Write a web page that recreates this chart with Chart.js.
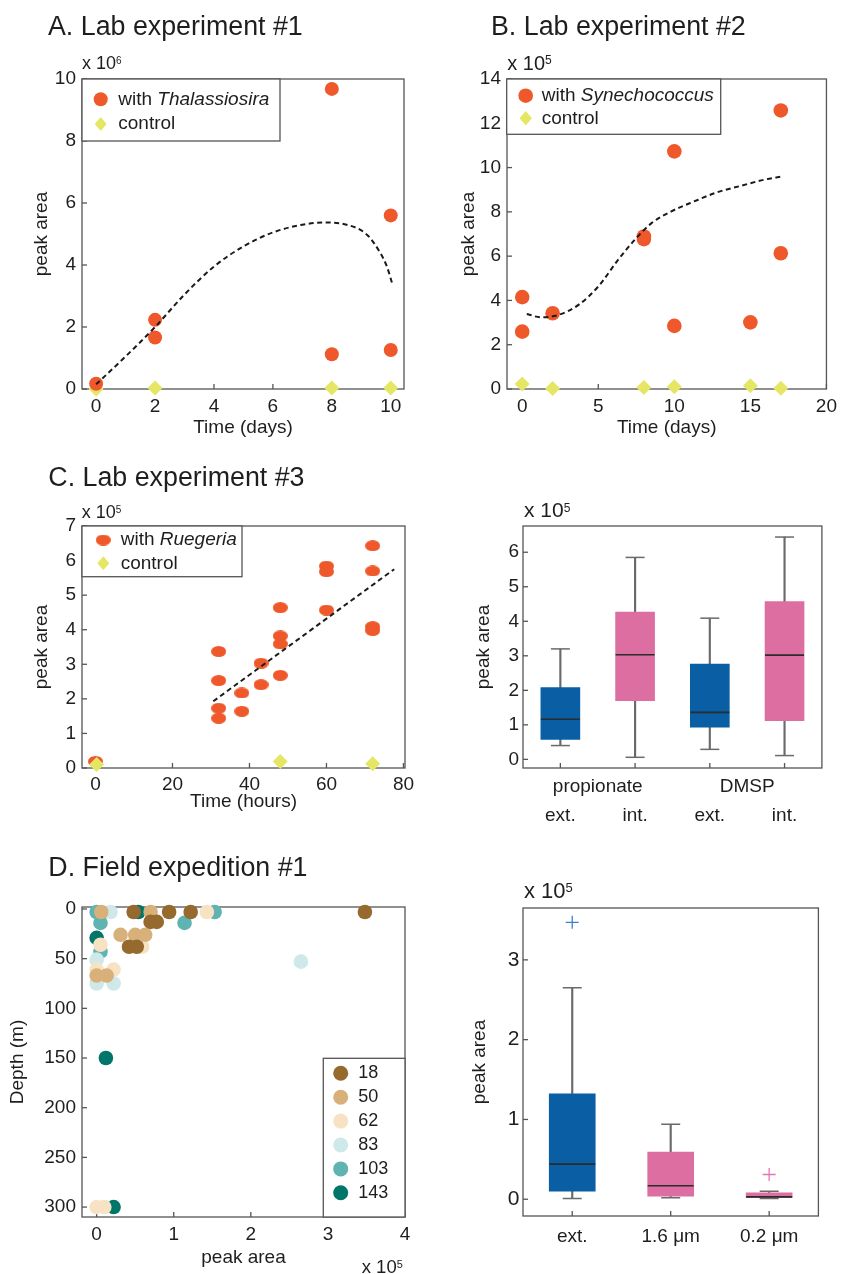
<!DOCTYPE html>
<html lang="en">
<head>
<meta charset="UTF-8">
<title>Peak area: lab experiments and field expedition</title>
<script src="https://cdn.jsdelivr.net/npm/chart.js"></script>
<style>
  body { margin: 0; background: #fff; }
  #fig { position: relative; width: 843px; height: 1274px; background: #fff; }
  #fig canvas { position: absolute; }
</style>
</head>
<body>
<div id="fig">
  <canvas id="panelA" width="421" height="440" style="left:0;top:0"></canvas>
  <canvas id="panelB" width="422" height="440" style="left:421px;top:0"></canvas>
  <canvas id="panelC" width="421" height="390" style="left:0;top:440px"></canvas>
  <canvas id="boxC" width="422" height="390" style="left:421px;top:440px"></canvas>
  <canvas id="panelD" width="421" height="444" style="left:0;top:830px"></canvas>
  <canvas id="boxD" width="422" height="444" style="left:421px;top:830px"></canvas>
</div>
<script>
// ---- data (peak areas in units of the axis multiplier) ----
const daysA = [0, 2, 2, 8, 8, 10, 10];
const areaA = [0.17, 2.23, 1.66, 9.68, 1.12, 5.6, 1.26];
const ctrlDaysA = [0, 2, 8, 10];
const ctrlAreaA = [0.0, 0.03, 0.03, 0.03];
const fitDaysA = [0, 1, 2, 3, 4, 5, 6, 7, 7.7, 8.5, 9.2, 9.65, 9.87, 10.05];
const fitAreaA = [0.15, 1.05, 2.0, 3.05, 3.95, 4.6, 5.05, 5.3, 5.37, 5.3, 4.97, 4.38, 3.95, 3.4];

const daysB = [0, 0, 2, 8, 8, 10, 10, 15, 17, 17];
const areaB = [4.15, 2.59, 3.42, 6.77, 6.89, 10.73, 2.85, 3.01, 12.58, 6.13];
const ctrlDaysB = [0, 2, 8, 10, 15, 17];
const ctrlAreaB = [0.23, 0.02, 0.07, 0.1, 0.15, 0.03];
const fitDaysB = [0.3, 1.2, 2.4, 3.7, 5.0, 6.3, 7.4, 8.5, 9.8, 11.3, 12.8, 14.4, 15.9, 17.1];
const fitAreaB = [3.39, 3.24, 3.35, 3.8, 4.63, 5.83, 6.74, 7.49, 8.02, 8.47, 8.88, 9.18, 9.45, 9.6];

const hoursC = [0, 32, 32, 32, 32, 38, 38, 43, 43, 48, 48, 48, 48, 60, 60, 60, 72, 72, 72, 72];
const areaC = [0.19, 3.37, 2.53, 1.73, 1.44, 2.17, 1.64, 3.03, 2.41, 4.64, 3.82, 3.59, 2.68, 5.84, 5.68, 4.57, 6.43, 5.7, 4.09, 3.98];
const ctrlHoursC = [0.3, 48, 72];
const ctrlAreaC = [0.1, 0.19, 0.12];
const fitHoursC = [30.6, 77.6];
const fitAreaC = [1.93, 5.75];

const boxCats1 = ['ext.', 'int.', 'ext.', 'int.'];
const boxGroups1 = ['propionate', 'DMSP'];
const box1Min = [0.40, 0.06, 0.29, 0.11];
const box1Q1 = [0.58, 1.70, 0.93, 1.12];
const box1Med = [1.16, 3.03, 1.36, 3.02];
const box1Q3 = [2.08, 4.27, 2.76, 4.57];
const box1Max = [3.20, 5.85, 4.09, 6.44];

const stations = ['18', '50', '62', '83', '103', '143'];
const area18 = [0.48, 0.94, 1.22, 3.48, 0.70, 0.78, 0.42, 0.52];
const depth18 = [3, 3, 3, 3, 13, 13, 38, 38];
const area50 = [0.06, 0.70, 0.31, 0.50, 0.63, 0.0, 0.13];
const depth50 = [3, 3, 26, 26, 26, 67, 67];
const area62 = [1.43, 0.05, 0.59, 0.22, 0.0, 0.0, 0.1];
const depth62 = [3, 36, 38, 61, 61, 300, 300];
const area83 = [0.18, 0.0, 2.65, 0.0, 0.22];
const depth83 = [3, 51, 53, 75, 75];
const area103 = [0.0, 1.53, 0.05, 1.14, 0.05];
const depth103 = [3, 3, 14, 14, 43];
const area143 = [0.54, 0.0, 0.12, 0.22];
const depth143 = [3, 29, 150, 300];

const boxCats2 = ['ext.', '1.6 μm', '0.2 μm'];
const box2Min = [0.01, 0.02, 0.01];
const box2Q1 = [0.10, 0.04, 0.02];
const box2Med = [0.44, 0.17, 0.03];
const box2Q3 = [1.32, 0.59, 0.08];
const box2Max = [2.65, 0.94, 0.10];
const box2Out = [3.47, null, 0.31];

const ticksA = { x: [0, 2, 4, 6, 8, 10], y: [0, 2, 4, 6, 8, 10] };
const ticksB = { x: [0, 5, 10, 15, 20], y: [0, 2, 4, 6, 8, 10, 12, 14] };
const ticksC = { x: [0, 20, 40, 60, 80], y: [0, 1, 2, 3, 4, 5, 6, 7] };
const ticksBox1 = [0, 1, 2, 3, 4, 5, 6];
const ticksD = { x: [0, 1, 2, 3, 4], y: [0, 50, 100, 150, 200, 250, 300] };
const ticksBox2 = [0, 1, 2, 3];

// ---- look ----
const ink = '#1e1e1e';
const frameInk = '#555';
const family = '"Liberation Sans", Arial, Helvetica, sans-serif';
const orange = '#EE582A';
const yellow = '#E6E665';
const blue = '#0A5EA4';
const pink = '#DC6EA2';
const stationColors = ['#966A2E', '#D8B07A', '#F7E3C3', '#CFE8EA', '#5FB3B0', '#00766A'];
const titleSize = 26.8;

Chart.defaults.font.family = family;
Chart.defaults.font.size = 19;
Chart.defaults.color = ink;
Chart.defaults.animation = false;
Chart.defaults.plugins.legend.display = false;
Chart.defaults.plugins.tooltip.enabled = false;

const pts = (xs, ys) => xs.map((x, i) => ({ x: x, y: ys[i] }));

function ellipseMark(color, w, h) {
  const c = document.createElement('canvas');
  c.width = w; c.height = h;
  const g = c.getContext('2d');
  g.fillStyle = color;
  g.beginPath();
  g.ellipse(w / 2, h / 2, w / 2, h / 2, 0, 0, Math.PI * 2);
  g.fill();
  return c;
}
const ovalOrange = ellipseMark(orange, 15, 11);

function linAxis(o) {
  const horizontal = o.pos === 'bottom';
  return {
    type: 'linear', position: o.pos, min: o.min, max: o.max, reverse: !!o.reverse,
    grid: { display: false, drawTicks: false },
    border: { display: false },
    ticks: { padding: o.pad, autoSkip: false, maxRotation: 0, font: { size: o.font || 19 } },
    afterBuildTicks: s => { s.ticks = o.ticks.map(v => ({ value: v })); },
    afterFit: s => { if (horizontal) s.height = o.size; else s.width = o.size; },
    title: { display: !!o.title, text: o.title || '', padding: { top: o.tpad || 0, bottom: o.tpad || 0 } }
  };
}

function catAxis(o) {
  return {
    type: 'category', position: 'bottom', offset: true, weight: o.weight || 0,
    labels: o.labels,
    grid: { display: false, drawTicks: false },
    border: { display: false },
    ticks: { padding: o.pad, autoSkip: false, maxRotation: 0 },
    afterFit: s => { s.height = o.size; }
  };
}

function richText(ctx, parts, x, y) {
  ctx.save();
  ctx.fillStyle = ink;
  ctx.textBaseline = 'middle';
  ctx.textAlign = 'left';
  let cx = x;
  parts.forEach(p => {
    ctx.font = (p.italic ? 'italic ' : '') + p.size + 'px ' + family;
    ctx.fillText(p.t, cx, y + (p.dy || 0));
    cx += ctx.measureText(p.t).width;
  });
  ctx.restore();
}

function expNote(x, y, size, power) {
  const sup = Math.round(size * 0.58);
  return { x: x, y: y, parts: [{ t: 'x 10', size: size }, { t: String(power), size: sup, dy: -0.36 * (size - sup) }] };
}

function drawMarker(ctx, kind, color, x, y, r) {
  ctx.save();
  ctx.fillStyle = color;
  ctx.beginPath();
  if (kind === 'circle') {
    ctx.arc(x, y, r, 0, Math.PI * 2);
    ctx.fill();
  } else if (kind === 'diamond') {
    ctx.moveTo(x, y - r); ctx.lineTo(x + r * 0.85, y); ctx.lineTo(x, y + r); ctx.lineTo(x - r * 0.85, y);
    ctx.closePath();
    ctx.fill();
  } else {
    ctx.drawImage(kind, x - kind.width / 2, y - kind.height / 2);
  }
  ctx.restore();
}

function drawLegend(ctx, L) {
  ctx.save();
  ctx.fillStyle = '#fff';
  ctx.fillRect(L.x, L.y, L.w, L.h);
  ctx.strokeStyle = frameInk;
  ctx.lineWidth = 1.3;
  ctx.strokeRect(L.x, L.y, L.w, L.h);
  L.items.forEach((it, i) => {
    const cy = L.y0 + i * L.dy;
    drawMarker(ctx, it.marker, it.color, L.mx, cy, L.r);
    richText(ctx, it.parts, L.tx, cy);
  });
  ctx.restore();
}

// frame, inward ticks, panel titles, multipliers and legends
function decor(spec) {
  return {
    id: 'decor',
    beforeDatasetsDraw(chart) {
      const ctx = chart.ctx, a = chart.chartArea;
      ctx.save();
      ctx.strokeStyle = frameInk;
      ctx.lineWidth = 1.3;
      ctx.strokeRect(a.left, a.top, a.right - a.left, a.bottom - a.top);
      (spec.tickScales || []).forEach(id => {
        const s = chart.scales[id];
        s.ticks.forEach((t, i) => {
          const p = s.getPixelForTick(i);
          ctx.beginPath();
          if (s.isHorizontal()) { ctx.moveTo(p, a.bottom); ctx.lineTo(p, a.bottom - 5); }
          else { ctx.moveTo(a.left, p); ctx.lineTo(a.left + 5, p); }
          ctx.stroke();
        });
      });
      ctx.restore();
    },
    afterDraw(chart) {
      const ctx = chart.ctx;
      (spec.notes || []).forEach(n => richText(ctx, n.parts, n.x, n.y));
      if (spec.legend) drawLegend(ctx, spec.legend);
    }
  };
}

function fitLine(xs, ys) {
  return {
    type: 'line', data: pts(xs, ys), borderColor: '#1a1a1a', borderWidth: 2,
    borderDash: [5, 3.5], pointRadius: 0, cubicInterpolationMode: 'monotone', fill: false, clip: false
  };
}
function dots(xs, ys, color, r) {
  return { type: 'scatter', data: pts(xs, ys), backgroundColor: color, borderWidth: 0, pointRadius: r, clip: false };
}
function diamonds(xs, ys) {
  return { type: 'scatter', data: pts(xs, ys), backgroundColor: yellow, borderWidth: 0, pointStyle: 'rectRot', pointRadius: 7.5, clip: false };
}

function boxSets(mins, q1s, meds, q3s, maxs, colors, boxW) {
  const whisk = '#6a6a6a';
  const cap = { type: 'line', xAxisID: 'x', showLine: false, pointStyle: 'line', pointRadius: 9.5, pointBorderColor: whisk, pointBorderWidth: 1.5, order: 1 };
  return [
    { type: 'line', xAxisID: 'x', data: meds, showLine: false, pointStyle: 'line', pointRadius: boxW / 2, pointBorderColor: '#2b2b2b', pointBorderWidth: 1.6, order: 1 },
    Object.assign({ data: maxs }, cap),
    Object.assign({ data: mins }, cap),
    { type: 'bar', xAxisID: 'x', data: q1s.map((v, i) => [v, q3s[i]]), backgroundColor: colors, barThickness: boxW, grouped: false, order: 2 },
    { type: 'bar', xAxisID: 'x', data: mins.map((v, i) => [v, maxs[i]]), backgroundColor: whisk, barThickness: 1.5, grouped: false, order: 3 }
  ];
}

const base = { responsive: false, devicePixelRatio: 1, animation: false };

// ---- A ----
new Chart(document.getElementById('panelA'), {
  type: 'scatter',
  data: { datasets: [
    fitLine(fitDaysA, fitAreaA),
    dots(daysA, areaA, orange, 7),
    diamonds(ctrlDaysA, ctrlAreaA)
  ] },
  options: Object.assign({}, base, {
    layout: { padding: { left: 0, top: 79, right: 17, bottom: 0 } },
    scales: {
      x: linAxis({ pos: 'bottom', min: -0.48, max: 10.45, ticks: ticksA.x, pad: 6, size: 51, title: 'Time (days)', tpad: 1 }),
      y: linAxis({ pos: 'left', min: 0, max: 10, ticks: ticksA.y, pad: 6, size: 82, title: 'peak area', tpad: 30 })
    }
  }),
  plugins: [decor({
    tickScales: ['x', 'y'],
    notes: [{ x: 48, y: 28, parts: [{ t: 'A. Lab experiment #1', size: titleSize }] }, expNote(82, 64, 18, 6)],
    legend: { x: 82, y: 79, w: 198, h: 62, mx: 100.7, tx: 118.3, y0: 99.3, dy: 24.7, r: 7,
      items: [
        { marker: 'circle', color: orange, parts: [{ t: 'with ', size: 19 }, { t: 'Thalassiosira', size: 19, italic: true }] },
        { marker: 'diamond', color: yellow, parts: [{ t: 'control', size: 19 }] }
      ] }
  })]
});

// ---- B ----
new Chart(document.getElementById('panelB'), {
  type: 'scatter',
  data: { datasets: [
    fitLine(fitDaysB, fitAreaB),
    dots(daysB, areaB, orange, 7.3),
    diamonds(ctrlDaysB, ctrlAreaB)
  ] },
  options: Object.assign({}, base, {
    layout: { padding: { left: 0, top: 79, right: 13, bottom: 0 } },
    scales: {
      x: linAxis({ pos: 'bottom', min: -1, max: 20, ticks: ticksB.x, pad: 6, size: 51, title: 'Time (days)', tpad: 1 }),
      y: linAxis({ pos: 'left', min: 0, max: 14, ticks: ticksB.y, pad: 6, size: 86, title: 'peak area', tpad: 36 })
    }
  }),
  plugins: [decor({
    tickScales: ['x', 'y'],
    notes: [{ x: 70, y: 28, parts: [{ t: 'B. Lab experiment #2', size: titleSize }] }, expNote(86.3, 64, 20, 5)],
    legend: { x: 85.7, y: 79, w: 214, h: 55.3, mx: 104.7, tx: 120.7, y0: 95.7, dy: 22.6, r: 7.3,
      items: [
        { marker: 'circle', color: orange, parts: [{ t: 'with ', size: 19 }, { t: 'Synechococcus', size: 19, italic: true }] },
        { marker: 'diamond', color: yellow, parts: [{ t: 'control', size: 19 }] }
      ] }
  })]
});

// ---- C ----
new Chart(document.getElementById('panelC'), {
  type: 'scatter',
  data: { datasets: [
    fitLine(fitHoursC, fitAreaC),
    diamonds(ctrlHoursC, ctrlAreaC),
    { type: 'scatter', data: pts(hoursC, areaC), pointStyle: ovalOrange, pointRadius: 7, clip: false }
  ] },
  options: Object.assign({}, base, {
    layout: { padding: { left: 0, top: 86, right: 16, bottom: 0 } },
    scales: {
      x: linAxis({ pos: 'bottom', min: -3.5, max: 80.4, ticks: ticksC.x, pad: 5.6, size: 62, title: 'Time (hours)', tpad: 17 }),
      y: linAxis({ pos: 'left', min: 0, max: 7, ticks: ticksC.y, pad: 6, size: 82, title: 'peak area', tpad: 30 })
    }
  }),
  plugins: [decor({
    tickScales: ['x', 'y'],
    notes: [{ x: 48.3, y: 38.3, parts: [{ t: 'C. Lab experiment #3', size: titleSize }] }, expNote(81.7, 73.3, 18, 5)],
    legend: { x: 82, y: 86, w: 160, h: 50.7, mx: 103.3, tx: 120.7, y0: 100, dy: 23.3, r: 7,
      items: [
        { marker: ovalOrange, color: orange, parts: [{ t: 'with ', size: 19 }, { t: 'Ruegeria', size: 19, italic: true }] },
        { marker: 'diamond', color: yellow, parts: [{ t: 'control', size: 19 }] }
      ] }
  })]
});

// ---- C, box plot ----
new Chart(document.getElementById('boxC'), {
  type: 'bar',
  data: { labels: boxCats1, datasets: boxSets(box1Min, box1Q1, box1Med, box1Q3, box1Max, [blue, pink, blue, pink], 39) },
  options: Object.assign({}, base, {
    layout: { padding: { left: 0, top: 86, right: 13, bottom: 0 } },
    scales: {
      x: catAxis({ weight: 1, pad: 5.6, size: 31 }),
      xg: catAxis({ labels: boxGroups1, weight: 0, pad: 7.3, size: 31 }),
      y: linAxis({ pos: 'left', min: -0.25, max: 6.76, ticks: ticksBox1, pad: 4, size: 102, title: 'peak area', tpad: 51 })
    }
  }),
  plugins: [decor({
    tickScales: ['x', 'y'],
    notes: [expNote(103, 71.7, 21, 5)]
  })]
});

// ---- D ----
const fieldAreas = [area18, area50, area62, area83, area103, area143];
const fieldDepths = [depth18, depth50, depth62, depth83, depth103, depth143];
new Chart(document.getElementById('panelD'), {
  type: 'scatter',
  data: { datasets: stations.map((s, i) => Object.assign(dots(fieldAreas[i], fieldDepths[i], stationColors[i], 7.3), { label: s })) },
  options: Object.assign({}, base, {
    layout: { padding: { left: 0, top: 77, right: 16, bottom: 0 } },
    scales: {
      x: linAxis({ pos: 'bottom', min: -0.19, max: 4, ticks: ticksD.x, pad: 6.6, size: 57, title: 'peak area', tpad: 4.6 }),
      y: linAxis({ pos: 'left', min: -2, max: 310, reverse: true, ticks: ticksD.y, pad: 6, size: 82, title: 'Depth (m)', tpad: 6 })
    }
  }),
  plugins: [decor({
    tickScales: ['x', 'y'],
    notes: [{ x: 48.3, y: 38.3, parts: [{ t: 'D. Field expedition #1', size: titleSize }] }, expNote(361.7, 437.7, 18.5, 5)],
    legend: { x: 323.3, y: 228.3, w: 81.7, h: 158.7, mx: 340.7, tx: 358.3, y0: 243.3, dy: 23.9, r: 7.5,
      items: stations.map((s, i) => ({ marker: 'circle', color: stationColors[i], parts: [{ t: s, size: 18 }] })) }
  })]
});

// ---- D, box plot ----
const box2Sets = boxSets(box2Min, box2Q1, box2Med, box2Q3, box2Max, [blue, pink, pink], 46);
box2Sets.unshift({
  type: 'line', xAxisID: 'x', data: box2Out, showLine: false, pointStyle: 'cross', pointRadius: 6.5,
  pointBorderWidth: 1.3, pointBorderColor: ['#3F7FD2', '#3F7FD2', '#E276B4'], order: 0
});
new Chart(document.getElementById('boxD'), {
  type: 'bar',
  data: { labels: boxCats2, datasets: box2Sets },
  options: Object.assign({}, base, {
    layout: { padding: { left: 0, top: 78, right: 13, bottom: 0 } },
    scales: {
      x: catAxis({ weight: 0, pad: 9.3, size: 58 }),
      y: linAxis({ pos: 'left', min: -0.21, max: 3.65, ticks: ticksBox2, pad: 3.5, size: 102, title: 'peak area', tpad: 47.6, font: 21 })
    }
  }),
  plugins: [decor({
    tickScales: ['x', 'y'],
    notes: [expNote(103, 61.7, 22, 5)]
  })]
});
</script>
</body>
</html>
